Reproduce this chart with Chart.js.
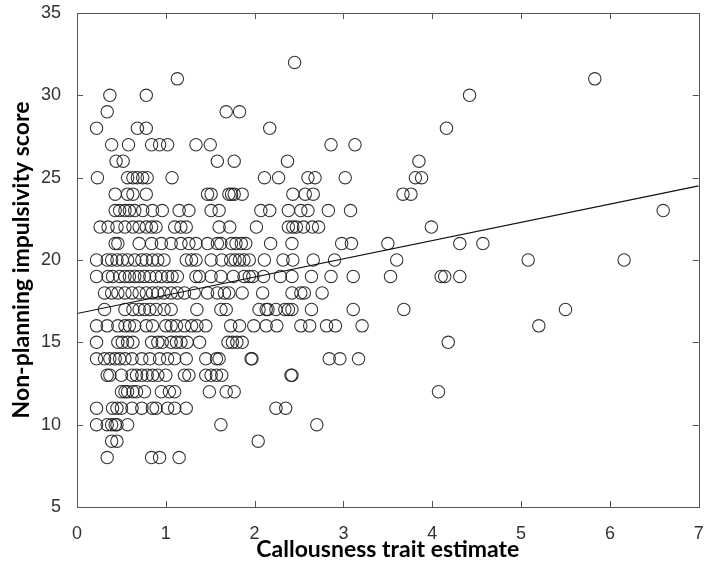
<!DOCTYPE html>
<html>
<head>
<meta charset="utf-8">
<script src="https://cdn.jsdelivr.net/npm/chart.js@4.4.1/dist/chart.umd.min.js"></script>
<style>
  html, body { margin: 0; padding: 0; background: #fff; }
  #wrap { width: 706px; height: 563px; }
</style>
</head>
<body>
<div id="wrap"><canvas id="myChart" width="706" height="563"></canvas></div>
<script>
// impulsivity score (y) for each row of circles
const scores = [32, 31, 30, 29, 28, 27, 26, 25, 24, 23, 22, 21, 20, 19, 18, 17, 16, 15, 14, 13, 12, 11, 10, 9, 8];

// callousness estimates (x) read off each row, same order as scores
const callousByScore = [
    [2.45],
    [1.13, 5.83],
    [0.37, 0.78, 4.42],
    [0.34, 1.68, 1.83],
    [0.22, 0.68, 0.78, 2.17, 4.16],
    [0.39, 0.58, 0.84, 0.93, 1.02, 1.34, 1.5, 2.86, 3.13],
    [0.44, 0.52, 1.58, 1.77, 2.37, 3.85],
    [0.23, 0.57, 0.63, 0.68, 0.74, 0.79, 1.07, 2.11, 2.27, 2.6, 2.68, 3.02, 3.81, 3.88],
    [0.43, 0.57, 0.63, 0.78, 1.47, 1.51, 1.71, 1.74, 1.77, 1.86, 2.43, 2.57, 2.66, 3.67, 3.76],
    [0.43, 0.48, 0.54, 0.59, 0.65, 0.74, 0.85, 0.96, 1.15, 1.26, 1.51, 1.6, 2.07, 2.17, 2.38, 2.52, 2.6, 2.83, 3.08, 6.6],
    [0.26, 0.35, 0.45, 0.54, 0.63, 0.7, 0.78, 0.84, 0.89, 1.1, 1.17, 1.23, 1.6, 1.72, 2.02, 2.38, 2.43, 2.47, 2.55, 2.65, 2.72, 3.99],
    [0.43, 0.46, 0.7, 0.84, 0.95, 1.06, 1.17, 1.26, 1.34, 1.47, 1.58, 1.62, 1.74, 1.79, 1.85, 1.9, 2.18, 2.42, 2.98, 3.09, 3.5, 4.31, 4.57],
    [0.22, 0.34, 0.39, 0.45, 0.51, 0.57, 0.65, 0.73, 0.78, 0.85, 0.91, 0.98, 1.23, 1.29, 1.34, 1.51, 1.63, 1.73, 1.78, 1.83, 1.88, 1.94, 2.11, 2.32, 2.43, 2.66, 2.9, 3.6, 5.08, 6.16],
    [0.22, 0.35, 0.4, 0.48, 0.54, 0.59, 0.65, 0.7, 0.76, 0.82, 0.89, 0.95, 1.02, 1.07, 1.13, 1.34, 1.38, 1.51, 1.62, 1.76, 1.88, 1.94, 1.98, 2.1, 2.29, 2.42, 2.64, 2.86, 3.11, 3.53, 4.1, 4.14, 4.31],
    [0.31, 0.39, 0.46, 0.54, 0.62, 0.7, 0.78, 0.85, 0.91, 0.98, 1.06, 1.13, 1.21, 1.32, 1.47, 1.58, 1.66, 1.71, 1.86, 2.09, 2.42, 2.52, 2.56, 2.76],
    [0.31, 0.54, 0.63, 0.7, 0.76, 0.82, 0.89, 0.98, 1.06, 1.35, 1.62, 1.68, 2.05, 2.13, 2.15, 2.24, 2.34, 2.38, 2.42, 2.64, 3.11, 3.68, 5.5],
    [0.22, 0.34, 0.46, 0.54, 0.59, 0.65, 0.78, 0.85, 1.0, 1.06, 1.12, 1.21, 1.29, 1.35, 1.45, 1.73, 1.83, 1.99, 2.13, 2.25, 2.52, 2.62, 2.81, 2.91, 3.21, 5.2],
    [0.22, 0.46, 0.51, 0.57, 0.63, 0.84, 0.91, 0.96, 1.06, 1.12, 1.17, 1.24, 1.38, 1.7, 1.75, 1.8, 1.86, 4.18],
    [0.22, 0.31, 0.37, 0.43, 0.48, 0.54, 0.62, 0.73, 0.82, 0.93, 1.02, 1.1, 1.23, 1.45, 1.57, 1.6, 1.96, 1.97, 2.84, 2.96, 3.17],
    [0.34, 0.37, 0.5, 0.62, 0.67, 0.73, 0.79, 0.85, 0.91, 1.0, 1.21, 1.26, 1.45, 1.51, 1.57, 1.63, 2.41, 2.42],
    [0.5, 0.54, 0.57, 0.63, 0.67, 0.76, 0.95, 1.04, 1.1, 1.49, 1.68, 1.77, 4.07],
    [0.22, 0.4, 0.45, 0.5, 0.62, 0.73, 0.85, 0.89, 1.02, 1.1, 1.23, 2.24, 2.35],
    [0.22, 0.34, 0.39, 0.43, 0.45, 0.57, 1.62, 2.7],
    [0.39, 0.45, 2.04],
    [0.34, 0.84, 0.93, 1.15]
];

// fitted regression line end points
const fitX = [0, 7];
const fitY = [16.75, 24.5];

const xTicks = [0, 1, 2, 3, 4, 5, 6, 7];
const yTicks = [5, 10, 15, 20, 25, 30, 35];

const points = [];
scores.forEach(function (s, i) {
    callousByScore[i].forEach(function (x) {
        points.push({ x: x, y: s });
    });
});

const fitLine = fitX.map(function (x, i) { return { x: x, y: fitY[i] }; });

// box round the plot plus inward tick marks on all four sides (matlab look)
const boxTicks = {
    id: 'boxTicks',
    afterDatasetsDraw(chart) {
        const ctx = chart.ctx;
        const a = chart.chartArea;
        const xs = chart.scales.x;
        const ys = chart.scales.y;
        const len = 6;
        ctx.save();
        ctx.strokeStyle = '#555';
        ctx.lineWidth = 1;
        ctx.beginPath();
        xTicks.forEach(function (v) {
            const px = Math.round(xs.getPixelForValue(v)) + 0.5;
            ctx.moveTo(px, a.bottom); ctx.lineTo(px, a.bottom - len);
            ctx.moveTo(px, a.top); ctx.lineTo(px, a.top + len);
        });
        yTicks.forEach(function (v) {
            const py = Math.round(ys.getPixelForValue(v)) + 0.5;
            ctx.moveTo(a.left, py); ctx.lineTo(a.left + len, py);
            ctx.moveTo(a.right, py); ctx.lineTo(a.right - len, py);
        });
        ctx.stroke();
        ctx.strokeRect(Math.round(a.left) + 0.5, Math.round(a.top) + 0.5,
            Math.round(a.right - a.left), Math.round(a.bottom - a.top));
        ctx.restore();
    }
};

const config = {
    type: 'scatter',
    data: {
        datasets: [
            {
                label: 'Participants',
                data: points,
                pointStyle: 'circle',
                pointRadius: 6.2,
                pointBorderWidth: 1.1,
                pointBorderColor: 'rgba(30,30,30,0.9)',
                pointBackgroundColor: 'rgba(0,0,0,0)',
                order: 2
            },
            {
                type: 'line',
                label: 'Fit',
                data: fitLine,
                borderColor: '#111',
                borderWidth: 1.2,
                pointRadius: 0,
                fill: false,
                order: 1
            }
        ]
    },
    options: {
        responsive: false,
        animation: false,
        events: [],
        layout: { padding: { top: 13, right: 3, left: 0, bottom: 0 } },
        plugins: {
            legend: { display: false },
            tooltip: { enabled: false }
        },
        scales: {
            x: {
                type: 'linear',
                min: 0,
                max: 7,
                afterBuildTicks: function (scale) {
                    scale.ticks = xTicks.map(function (v) { return { value: v }; });
                },
                afterFit: function (scale) {
                    scale.height = 56;
                    scale.paddingLeft = 0;
                    scale.paddingRight = 0;
                },
                grid: { display: false },
                border: { display: false },
                ticks: {
                    color: '#333',
                    padding: 8,
                    font: { family: 'Liberation Sans, Arial, sans-serif', size: 18 }
                },
                title: {
                    display: true,
                    text: 'Callousness trait estimate',
                    color: '#000',
                    padding: { top: 0, bottom: 0 },
                    font: { family: 'Lato, sans-serif', size: 23, weight: 'bold' }
                }
            },
            y: {
                type: 'linear',
                min: 5,
                max: 35,
                afterBuildTicks: function (scale) {
                    scale.ticks = yTicks.map(function (v) { return { value: v }; });
                },
                afterFit: function (scale) {
                    scale.width = 77;
                    scale.paddingTop = 0;
                    scale.paddingBottom = 0;
                },
                grid: { display: false },
                border: { display: false },
                ticks: {
                    color: '#333',
                    padding: 8,
                    font: { family: 'Liberation Sans, Arial, sans-serif', size: 18 }
                },
                title: {
                    display: true,
                    text: 'Non-planning impulsivity score',
                    color: '#000',
                    padding: { top: 8, bottom: 4 },
                    font: { family: 'Lato, sans-serif', size: 23, weight: 'bold' }
                }
            }
        }
    },
    plugins: [boxTicks]
};

const myChart = new Chart(
    document.getElementById('myChart'),
    config
);
</script>
</body>
</html>
